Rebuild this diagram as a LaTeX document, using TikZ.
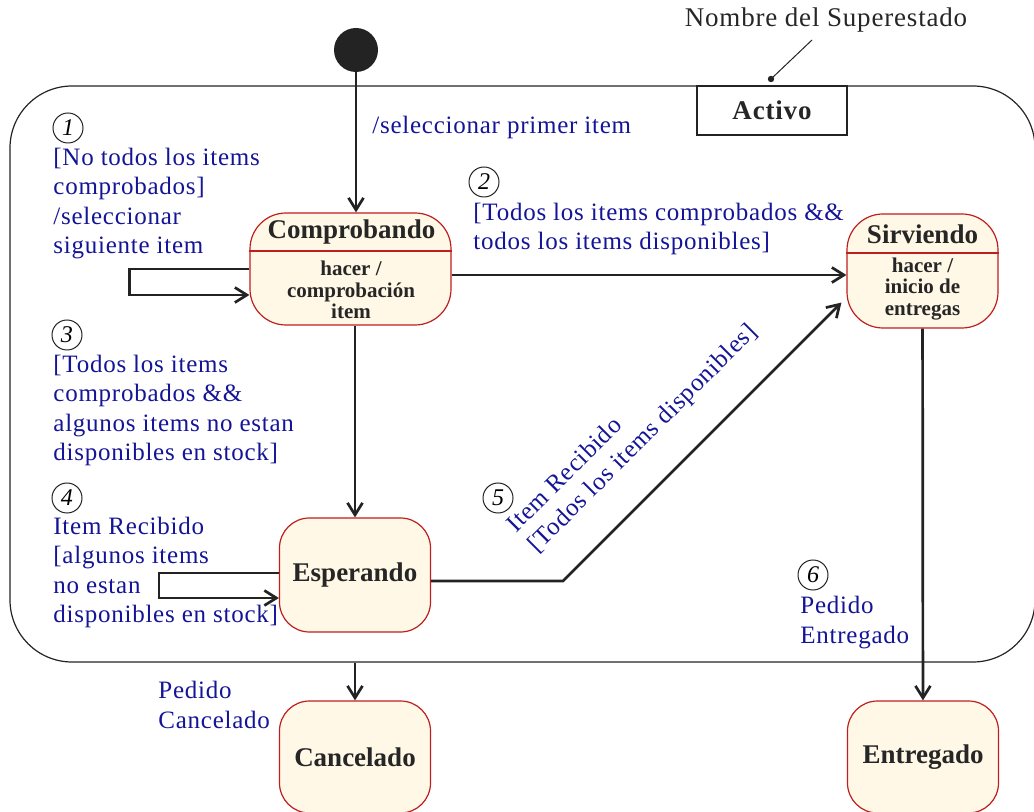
\documentclass[tikz,border=0pt]{standalone}
\usepackage{fontspec}
\setmainfont{Liberation Serif}
\newfontfamily\spaced[LetterSpace=3]{Liberation Serif}
\usetikzlibrary{arrows.meta}
\tikzset{>={Straight Barb[length=6pt,width=7.5pt]}}
\definecolor{guardblue}{RGB}{20,20,150}
\definecolor{statered}{RGB}{190,30,30}
\definecolor{statefill}{RGB}{255,248,230}
\definecolor{linegray}{RGB}{35,35,35}
\tikzset{
  state/.style={draw=statered, fill=statefill, line width=0.6pt, rounded corners=15pt,
    inner sep=0pt, minimum width=75.5pt, minimum height=57pt,
    font=\fontsize{13.5}{15}\selectfont\bfseries, text=black!85},
  statename/.style={font=\fontsize{13.5}{15}\selectfont\bfseries, text=black!85, inner sep=0pt},
  activity/.style={font=\fontsize{10.5}{10.75}\selectfont\bfseries, align=center, inner sep=0pt, text=black!85},
  guard/.style={font=\spaced\fontsize{12.5}{14.6}\selectfont, text=guardblue, align=left, inner sep=0pt, anchor=west},
  num/.style={circle, draw=linegray, line width=0.5pt, inner sep=0pt, minimum size=15pt,
    font=\fontsize{12}{12}\selectfont\itshape},
  trans/.style={->, line width=1.35pt, draw=linegray},
}

\begin{document}
\begin{tikzpicture}[x=0.5pt,y=-0.5pt]
  \useasboundingbox (0,0) rectangle (1034,812);
  % superestado
  \node[draw=linegray, line width=0.6pt, rounded corners=31pt, minimum width=512.5pt,
    minimum height=288pt, inner sep=0pt] (activo) at (522.5,374) {};
  \node[draw=linegray, line width=0.6pt, fill=white, minimum width=75pt, minimum height=24.5pt,
    inner sep=0pt, font=\spaced\fontsize{13.5}{15}\selectfont\bfseries, text=black!85] (nombre) at (772,110.5) {Activo};
  \node[inner sep=0pt, font=\spaced\fontsize{13.5}{15}\selectfont, text=black!85] (supname) at (826,20) {Nombre del Superestado};
  \coordinate (punto) at (771,79);
  \coordinate (notafin) at (812,40);
  \fill[linegray] (punto) circle (1.6pt);
  \draw[linegray, line width=0.5pt] (punto) -- (notafin);

  % estados
  \node[circle, fill=linegray, minimum size=22pt, inner sep=0pt] (inicio) at (356,50) {};
  \node[state, rounded corners=18pt, minimum width=100.5pt, minimum height=56pt] (comprobando) at (350.5,269) {};
  \node[statename] at (351.5,232) {Comprobando};
  \draw[statered, line width=0.6pt] ([yshift=9pt]comprobando.west) -- ([yshift=9pt]comprobando.east);
  \node[activity] at (351,290) {hacer /\\comprobación\\item};

  \node[state, rounded corners=18pt] (sirviendo) at (922.5,271) {};
  \node[statename] at (922.5,234) {Sirviendo};
  \draw[statered, line width=0.6pt] ([yshift=9pt]sirviendo.west) -- ([yshift=9pt]sirviendo.east);
  \node[activity] at (922.5,289) {hacer /\\inicio de\\entregas};

  \node[state] (esperando) at (355,575) {Esperando};
  \node[state, minimum height=56pt] (cancelado) at (355,757) {Cancelado};
  \node[state, minimum height=56pt] (entregado) at (923,757) {Entregado};

  % transiciones
  \draw[trans] (inicio) -- (inicio |- comprobando.north);
  \draw[trans] (comprobando.west) -- ++(-60pt,0) -- ++(0,-13pt) -- ([yshift=-13pt]comprobando.west);
  \coordinate (c2) at ([yshift=-3pt]comprobando.east);
  \draw[trans] (c2) -- (c2 -| sirviendo.west);
  \draw[trans] (comprobando.south -| esperando.north) -- (esperando.north);
  \draw[trans] ([yshift=1pt]esperando.west) -- ++(-60pt,0) -- ++(0,-12.5pt) -- ([yshift=-11.5pt]esperando.west);
  \coordinate (codo) at (563,581);
  \draw[trans] ([yshift=-3pt]esperando.east) -- (codo) -- ([shift={(-2.5pt,13pt)}]sirviendo.south west);
  \draw[trans] (sirviendo) -- (entregado);
  \draw[trans] (cancelado.north |- activo.south) -- (cancelado.north);

  % guardas
  \node[guard] (g0) at (372,127) {/seleccionar primer item};
  \node[num] (n1) at (68,128) {1};
  \node[guard] (g1) at (53,203.5) {[No todos los items\\comprobados]\\/seleccionar\\siguiente item};
  \node[num] (n2) at (484,182) {2};
  \node[guard] (g2) at (473,229) {[Todos los items comprobados \&\&\\todos los items disponibles]};
  \node[num] (n3) at (67,335) {3};
  \node[guard] (g3) at (53,410.5) {[Todos los items\\comprobados \&\&\\algunos items no estan\\disponibles en stock]};
  \node[num] (n4) at (67,498) {4};
  \node[guard] (g4) at (53,572.5) {Item Recibido\\{}[algunos items\\no estan\\disponibles en stock]};
  \node[num] (n5) at (498,498) {5};
  \node[guard, anchor=center, rotate=45] (g5) at (633,429) {Item Recibido\\{}[Todos los items disponibles]};
  \node[num] (n6) at (813,575) {6};
  \node[guard] (g6) at (800,622.5) {Pedido\\Entregado};
  \node[guard] (g7) at (158,705) {Pedido\\Cancelado};
\end{tikzpicture}
\end{document}
